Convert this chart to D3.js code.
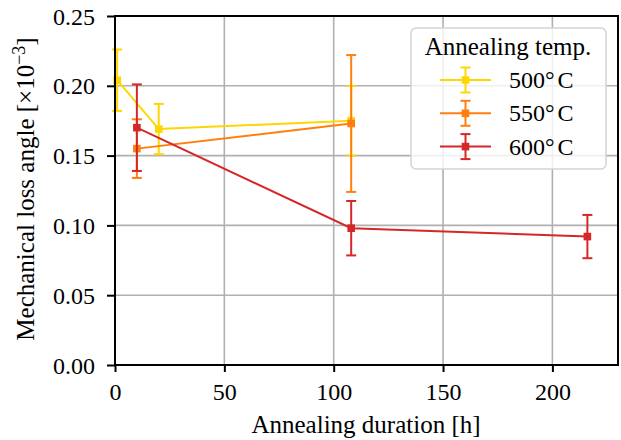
<!DOCTYPE html>
<html>
<head>
<meta charset="utf-8">
<script src="https://cdn.jsdelivr.net/npm/d3@7"></script>
<style>
  body { margin: 0; background: #fff; }
  svg text { font-family: "Liberation Serif", "DejaVu Serif", serif !important; fill: #000; }
</style>
</head>
<body>
<svg id="chart" width="621" height="440" font-family="Liberation Serif"></svg>
<script>
// values
const seriesNames = ["500°C", "550°C", "600°C"];
const seriesColors = ["#ffd700", "#ff7f0e", "#d62728"];
const hours500 = [1, 20, 108];
const loss500 = [0.204, 0.169, 0.175];
const err500 = [0.022, 0.018, 0.025];
const hours550 = [10, 108];
const loss550 = [0.155, 0.173];
const err550 = [0.021, 0.049];
const hours600 = [10, 108, 216];
const loss600 = [0.170, 0.098, 0.092];
const err600 = [0.031, 0.0195, 0.0155];
const xTicks = [0, 50, 100, 150, 200];
const yTicks = [0, 0.05, 0.10, 0.15, 0.20, 0.25];

const series = [
  { hours: hours500, loss: loss500, err: err500 },
  { hours: hours550, loss: loss550, err: err550 },
  { hours: hours600, loss: loss600, err: err600 }
].map((s, i) => ({
  name: seriesNames[i],
  color: seriesColors[i],
  points: s.hours.map((h, j) => ({ h, v: s.loss[j], e: s.err[j] }))
}));

const svg = d3.select("#chart");
const margin = { top: 16, right: 3, bottom: 75, left: 115 };
const width = +svg.attr("width") - margin.left - margin.right;
const height = +svg.attr("height") - margin.top - margin.bottom;
const chart = svg.append("g").attr("transform", `translate(${margin.left},${margin.top})`);

const x = d3.scaleLinear().domain([0, 230]).range([0, width]);
const y = d3.scaleLinear().domain([0, 0.25]).range([height, 0]);

// grid
chart.append("g")
  .selectAll("line")
  .data(xTicks)
  .join("line")
  .attr("x1", d => x(d)).attr("x2", d => x(d))
  .attr("y1", 0).attr("y2", height)
  .attr("stroke", "#b0b0b0").attr("stroke-width", 1.6);

chart.append("g")
  .selectAll("line")
  .data(yTicks)
  .join("line")
  .attr("x1", 0).attr("x2", width)
  .attr("y1", d => y(d)).attr("y2", d => y(d))
  .attr("stroke", "#b0b0b0").attr("stroke-width", 1.6);

// series
const line = d3.line().x(d => x(d.h)).y(d => y(d.v));
const cap = 5;
const ms = 7.6;

series.forEach(s => {
  const g = chart.append("g");
  g.append("path")
    .datum(s.points)
    .attr("d", line)
    .attr("fill", "none")
    .attr("stroke", s.color)
    .attr("stroke-width", 2);

  g.selectAll("line.bar")
    .data(s.points)
    .join("line")
    .attr("x1", d => x(d.h)).attr("x2", d => x(d.h))
    .attr("y1", d => y(d.v - d.e)).attr("y2", d => y(d.v + d.e))
    .attr("stroke", s.color).attr("stroke-width", 2);

  [-1, 1].forEach(sign => {
    g.selectAll(null)
      .data(s.points)
      .join("line")
      .attr("x1", d => x(d.h) - cap).attr("x2", d => x(d.h) + cap)
      .attr("y1", d => y(d.v + sign * d.e)).attr("y2", d => y(d.v + sign * d.e))
      .attr("stroke", s.color).attr("stroke-width", 2);
  });

  g.selectAll("rect")
    .data(s.points)
    .join("rect")
    .attr("x", d => x(d.h) - ms / 2)
    .attr("y", d => y(d.v) - ms / 2)
    .attr("width", ms).attr("height", ms)
    .attr("fill", s.color);
});

// axes
chart.append("g")
  .attr("transform", `translate(0,${height})`)
  .call(d3.axisBottom(x).tickValues(xTicks).tickFormat(d3.format("d")).tickSize(7).tickPadding(11))
  .attr("font-family", null)
  .call(g => g.select(".domain").remove())
  .call(g => g.selectAll("text").style("font-size", "24px"));

chart.append("g")
  .call(d3.axisLeft(y).tickValues(yTicks).tickFormat(d3.format(".2f")).tickSize(8).tickPadding(12))
  .attr("font-family", null)
  .call(g => g.select(".domain").remove())
  .call(g => g.selectAll("text").attr("dy", "0.34em").style("font-size", "24px"));

chart.selectAll(".tick line").attr("stroke", "#000").attr("stroke-width", 2);

chart.append("rect")
  .attr("width", width).attr("height", height)
  .attr("fill", "none").attr("stroke", "#000").attr("stroke-width", 2);

// axis labels
svg.append("text")
  .attr("x", 366)
  .attr("y", 433)
  .attr("text-anchor", "middle")
  .style("font-size", "25px")
  .text("Annealing duration [h]");

const yl = svg.append("text")
  .attr("transform", `translate(34,189) rotate(-90)`)
  .attr("text-anchor", "middle")
  .style("font-size", "25px");
yl.append("tspan").text("Mechanical loss angle [×10");
yl.append("tspan").attr("dy", -9).style("font-size", "18px").text("−3");
yl.append("tspan").attr("dy", 9).text("]");

// legend
const lg = svg.append("g").attr("transform", "translate(411,28)");
lg.append("rect")
  .attr("width", 195).attr("height", 141)
  .attr("rx", 5)
  .attr("fill", "#fff").attr("fill-opacity", 0.8)
  .attr("stroke", "#d4d4d4").attr("stroke-width", 1.5);
lg.append("text")
  .attr("x", 97).attr("y", 27)
  .attr("text-anchor", "middle")
  .style("font-size", "25px")
  .text("Annealing temp.");

series.forEach((s, i) => {
  const yy = 52 + i * 33.3;
  const e = lg.append("g").attr("transform", `translate(0,${yy})`);
  e.append("line").attr("x1", 29).attr("x2", 80).attr("y1", 0).attr("y2", 0)
    .attr("stroke", s.color).attr("stroke-width", 2);
  e.append("line").attr("x1", 54.5).attr("x2", 54.5).attr("y1", -12.5).attr("y2", 12.5)
    .attr("stroke", s.color).attr("stroke-width", 2);
  [-12.5, 12.5].forEach(c => e.append("line")
    .attr("x1", 54.5 - cap).attr("x2", 54.5 + cap).attr("y1", c).attr("y2", c)
    .attr("stroke", s.color).attr("stroke-width", 2));
  e.append("rect").attr("x", 54.5 - ms / 2).attr("y", -ms / 2).attr("width", ms).attr("height", ms)
    .attr("fill", s.color);
  const t = e.append("text").attr("x", 98).attr("y", 8).style("font-size", "24px");
  const parts = s.name.split("°");
  t.append("tspan").text(parts[0] + "°");
  t.append("tspan").attr("dx", 3).text(parts[1]);
});
</script>
</body>
</html>
